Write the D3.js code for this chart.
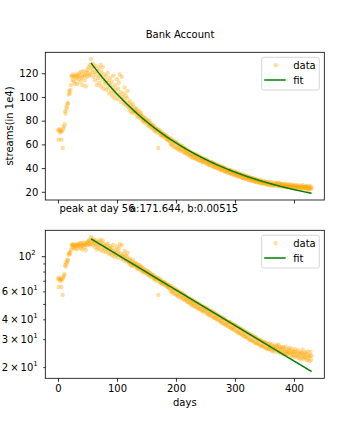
<!DOCTYPE html>
<html>
<head>
<meta charset="utf-8">
<script src="https://d3js.org/d3.v7.min.js"></script>
<style>
  body { margin: 0; background: #fff; }
  text { font-family: "DejaVu Sans", sans-serif; font-size: 10px; fill: #000; }
</style>
</head>
<body>
<script>
// Daily streams (in 1e4), day 0 .. 430
var streams = [
  72, 64, 73, 71, 70, 72, 64, 71, 57, 73,
  75, 77, 88, 86, 92, 90, 95, 94, 102, 105,
  103, 106, 110, 118, 117, 114, 119, 113, 117, 111,
  118, 116, 119, 111, 117, 115, 120, 118, 113, 121,
  116, 110, 117, 122, 119, 114, 118, 109, 121, 117,
  123, 120, 125, 118, 127, 119, 132, 124, 121, 128,
  117, 125, 121, 114, 126, 119, 110, 122, 116, 124,
  112, 118, 127, 109, 121, 115, 125, 107, 119, 113,
  111, 117, 106, 114, 120, 108, 112, 103, 116, 110,
  105, 113, 101, 108, 118, 104, 99, 110, 106, 102,
  115, 98, 107, 112, 101, 119, 104, 96, 117, 100,
  98, 103, 94, 108, 96, 101, 93, 99, 105, 92,
  95, 90, 96.5, 88, 93, 91, 86.5, 94, 89, 87.5,
  91, 86.5, 88.5, 90, 84, 87.5, 83, 85.5, 88, 82.5,
  84.5, 86, 81, 84, 79.5, 83, 80.5, 78.5, 82, 79,
  81, 77.5, 79.5, 76, 80, 75.5, 78, 76.5, 74, 77,
  76, 73.5, 75.5, 72, 74.5, 71, 73.5, 72.5, 70, 72.8,
  57, 72, 69.5, 71, 68, 70.5, 67.5, 69, 66.5, 68.5,
  67, 68.5, 65.5, 67.2, 64.5, 66.4, 63.8, 65.8, 63.2, 64.6,
  62.5, 60.4, 65.1, 59.2, 63.4, 60.8, 58.1, 62.9, 61.3, 57.6,
  61.8, 57.3, 60.9, 56.2, 59.8, 55.4, 59.7, 57.9, 54.6, 58.3,
  55.8, 58.6, 54.1, 57.2, 53.3, 56.7, 52.6, 55.9, 53.8, 51.7,
  54.9, 51.6, 54.3, 50.4, 53.7, 51.2, 49.4, 53.1, 50.6, 48.6,
  52.1, 49.2, 51.8, 48.0, 51.0, 47.6, 50.7, 47.3, 49.9, 46.4,
  49.8, 46.9, 48.9, 45.4, 48.5, 46.0, 44.7, 48.0, 45.1, 47.2,
  47.3, 44.3, 46.6, 43.4, 46.3, 42.8, 45.6, 43.6, 42.2, 45.1,
  44.9, 42.1, 44.5, 41.2, 44.0, 40.9, 43.5, 40.8, 42.9, 40.1,
  42.8, 39.8, 42.2, 39.4, 41.9, 38.6, 41.3, 39.1, 37.9, 40.6,
  40.7, 37.8, 40.1, 37.1, 39.8, 36.7, 39.1, 37.3, 36.1, 38.7,
  38.4, 35.8, 38.3, 35.5, 37.8, 34.8, 37.4, 35.2, 34.4, 36.9,
  36.7, 34.0, 36.2, 33.5, 35.9, 33.2, 35.4, 32.8, 35.1, 32.6,
  34.9, 32.3, 34.4, 31.7, 34.0, 31.5, 33.7, 31.2, 33.2, 30.9,
  33.1, 30.8, 32.7, 30.2, 32.4, 29.9, 32.1, 29.6, 31.6, 29.4,
  31.5, 29.2, 31.1, 28.7, 30.9, 28.5, 30.6, 28.1, 30.0, 28.4,
  29.9, 27.8, 29.7, 27.4, 29.4, 27.1, 29.0, 27.6, 26.8, 28.7,
  28.8, 26.7, 28.4, 26.3, 28.1, 26.0, 27.9, 26.4, 28.2, 25.9,
  27.1, 26.0, 27.9, 25.2, 26.9, 25.8, 27.0, 25.1, 26.3, 27.6,
  26.2, 27.1, 25.0, 26.0, 27.7, 24.9, 26.8, 25.7, 24.4, 26.6,
  25.9, 24.8, 26.7, 24.2, 25.6, 24.7, 26.9, 24.1, 25.8, 24.9,
  24.3, 25.7, 24.6, 26.5, 23.9, 25.1, 23.4, 25.9, 24.8, 24.0,
  25.0, 23.2, 25.8, 23.8, 24.9, 23.1, 24.2, 25.6, 22.9, 24.6,
  23.7, 22.4, 24.8, 23.3, 24.4, 25.7, 22.6, 24.0, 23.0, 24.7,
  23.1, 24.2, 22.1, 25.1, 22.8, 23.9, 21.8, 23.4, 24.9, 22.3,
  23.6
];
var days = streams.map(function(d, i) { return i; });

// Exponential fit shown in the chart: a * exp(-b * day), from the peak on
var fitA = 171.644;
var fitB = 0.00515;
var peakDay = 56;

var xTicks = [0, 100, 200, 300, 400];
var yTicksLinear = [20, 40, 60, 80, 100, 120];
var logMajor = [100];
var logMinor = [20, 30, 40, 50, 60, 70, 80, 90];
var logLabels = {100: ["10", "2"], 60: ["6\u2009\u00d7\u200910", "1"], 40: ["4\u2009\u00d7\u200910", "1"],
                 30: ["3\u2009\u00d7\u200910", "1"], 20: ["2\u2009\u00d7\u200910", "1"]};

var width = 360;
var height = 432;
var left = 45.3;
var right = 324.3;
var dotColor = "orange";
var fitColor = "green";

var svg = d3.select("body")
            .append("svg")
            .attr("width", width)
            .attr("height", height);

// Title
svg.append("text")
   .attr("x", 180)
   .attr("y", 38)
   .attr("text-anchor", "middle")
   .text("Bank Account");

var fitDays = days.filter(function(d) { return d >= peakDay; });
var fitValues = fitDays.map(function(d) { return fitA * Math.exp(-fitB * d); });

// x scale with matplotlib-like 5% margins
var xPad = 0.05 * (d3.max(days) - d3.min(days));
var x = d3.scaleLinear()
          .domain([d3.min(days) - xPad, d3.max(days) + xPad])
          .range([left, right]);

var allY = streams.concat(fitValues);
var yLo = d3.min(allY);
var yHi = d3.max(allY);

function drawPanel(top, bottom, y, isLog, id) {
  var g = svg.append("g");

  svg.append("clipPath")
     .attr("id", id)
     .append("rect")
     .attr("x", left)
     .attr("y", top)
     .attr("width", right - left)
     .attr("height", bottom - top);

  var plot = g.append("g").attr("clip-path", "url(#" + id + ")");

  // Data points
  plot.selectAll("circle")
      .data(streams)
      .enter()
      .append("circle")
      .attr("cx", function(d, i) { return x(days[i]); })
      .attr("cy", function(d) { return y(d); })
      .attr("r", 2.2)
      .attr("fill", dotColor)
      .attr("fill-opacity", 0.38);

  // Fit line
  var line = d3.line()
               .x(function(d, i) { return x(fitDays[i]); })
               .y(function(d) { return y(d); });
  plot.append("path")
      .datum(fitValues)
      .attr("d", line)
      .attr("fill", "none")
      .attr("stroke", fitColor)
      .attr("stroke-width", 1.5);

  // x axis
  var xAxis = d3.axisBottom(x)
                .tickValues(xTicks)
                .tickSize(3.5)
                .tickPadding(3.5);
  if (!isLog) xAxis.tickFormat("");
  var xg = g.append("g")
            .attr("transform", "translate(0," + bottom + ")")
            .call(xAxis);
  xg.select(".domain").remove();

  // y axis
  if (!isLog) {
    var yg = g.append("g")
              .attr("transform", "translate(" + left + ",0)")
              .call(d3.axisLeft(y).tickValues(yTicksLinear).tickSize(3.5).tickPadding(3.5));
    yg.select(".domain").remove();
  } else {
    var ym = g.append("g")
              .attr("transform", "translate(" + left + ",0)")
              .call(d3.axisLeft(y).tickValues(logMinor).tickSize(2).tickFormat(""));
    ym.select(".domain").remove();
    var yM = g.append("g")
              .attr("transform", "translate(" + left + ",0)")
              .call(d3.axisLeft(y).tickValues(logMajor).tickSize(3.5).tickFormat(""));
    yM.select(".domain").remove();

    Object.keys(logLabels).forEach(function(k) {
      var v = +k;
      var t = g.append("text")
               .attr("x", left - (v === 100 ? 9.5 : 7.5))
               .attr("y", y(v) + 3.5)
               .attr("text-anchor", "end");
      t.append("tspan").text(logLabels[k][0]);
      t.append("tspan")
       .attr("dy", -4.5)
       .style("font-size", "7px")
       .text(logLabels[k][1]);
    });
  }
  g.selectAll(".tick line").attr("stroke", "#000").attr("stroke-width", 0.8);
  g.selectAll(".tick text").style("font-size", "10px").attr("font-family", null);

  // Frame
  g.append("rect")
   .attr("x", left)
   .attr("y", top)
   .attr("width", right - left)
   .attr("height", bottom - top)
   .attr("fill", "none")
   .attr("stroke", "#000")
   .attr("stroke-width", 0.8);

  // Legend
  var lx = 261.7;
  var ly = top + 5;
  g.append("rect")
   .attr("x", lx)
   .attr("y", ly)
   .attr("width", 57.6)
   .attr("height", 32.7)
   .attr("rx", 2)
   .attr("fill", "#fff")
   .attr("fill-opacity", 0.8)
   .attr("stroke", "#ccc")
   .attr("stroke-width", 0.8);
  g.append("circle")
   .attr("cx", lx + 14)
   .attr("cy", ly + 7.8)
   .attr("r", 2.2)
   .attr("fill", dotColor)
   .attr("fill-opacity", 0.38);
  g.append("text")
   .attr("x", lx + 31.5)
   .attr("y", ly + 11.3)
   .text("data");
  g.append("line")
   .attr("x1", lx + 2.5)
   .attr("x2", lx + 24)
   .attr("y1", ly + 22.7)
   .attr("y2", ly + 22.7)
   .attr("stroke", fitColor)
   .attr("stroke-width", 1.5);
  g.append("text")
   .attr("x", lx + 31.5)
   .attr("y", ly + 26.2)
   .text("fit");
}

// Top panel: linear scale
var linPad = 0.05 * (yHi - yLo);
var yTop = d3.scaleLinear()
             .domain([yLo - linPad, yHi + linPad])
             .range([200, 52.3]);
drawPanel(52.3, 200, yTop, false, "clipTop");

// Bottom panel: log scale
var logPad = 0.05 * (Math.log10(yHi) - Math.log10(yLo));
var yBottom = d3.scaleLog()
                .domain([Math.pow(10, Math.log10(yLo) - logPad), Math.pow(10, Math.log10(yHi) + logPad)])
                .range([378.3, 230.3]);
drawPanel(230.3, 378.3, yBottom, true, "clipBottom");

// Axis labels
svg.append("text")
   .attr("transform", "translate(12.5,126) rotate(-90)")
   .attr("text-anchor", "middle")
   .text("streams(in 1e4)");
svg.append("text")
   .attr("x", (left + right) / 2)
   .attr("y", 406)
   .attr("text-anchor", "middle")
   .text("days");

// Fit annotations
svg.append("text")
   .attr("x", x(0) + 1.5)
   .attr("y", 211.5)
   .text("peak at day " + peakDay);
svg.append("text")
   .attr("x", x(122))
   .attr("y", 211.5)
   .text("a:" + fitA + ", b:" + fitB);
</script>
</body>
</html>
